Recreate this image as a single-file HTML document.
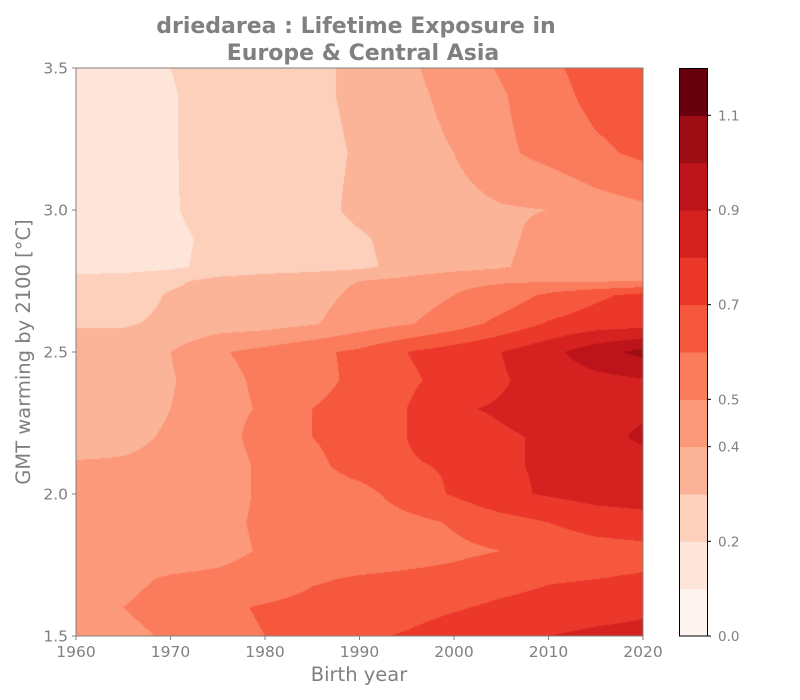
<!DOCTYPE html>
<html><head><meta charset="utf-8"><style>
body{margin:0;background:#fff;width:800px;height:700px;overflow:hidden;font-family:"Liberation Sans","DejaVu Sans",sans-serif}
svg text{font-family:"DejaVu Sans","Liberation Sans",sans-serif}
</style></head><body>
<div style="position:relative;width:800px;height:700px">
<canvas id="cv" width="567" height="568" style="position:absolute;left:76px;top:68px"></canvas>
<svg id="sv" width="800" height="700" style="position:absolute;left:0;top:0"></svg>
</div>
<script>
const years=[1960,1965,1970,1975,1980,1985,1990,1995,2000,2005,2010,2015,2020];
const gmt=[1.5,1.6,1.7,1.8,1.9,2.0,2.1,2.2,2.3,2.4,2.5,2.6,2.7,2.75,2.8,2.9,3.0,3.2,3.4,3.5];
// exposure values (x0.1) per GMT row, across birth years
const exposure=[
[4.6,4.8,5.1,5.7,6.0,6.5,6.8,7.1,7.5,7.7,8.0,8.2,8.3],
[4.9,5.0,5.3,5.8,6.1,6.3,6.4,6.6,6.9,7.2,7.4,7.6,7.8],
[4.5,4.8,5.1,5.2,5.4,5.9,6.1,6.2,6.3,6.6,6.9,7.0,7.1],
[4.5,4.5,4.5,4.7,5.1,5.3,5.4,5.6,5.8,6.0,6.4,6.6,6.7],
[4.4,4.4,4.5,4.7,5.2,5.3,5.4,5.7,6.1,6.6,7.0,7.4,7.6],
[4.3,4.3,4.3,4.5,5.2,5.4,5.6,6.5,7.1,7.8,8.1,8.4,8.5],
[4.1,4.1,4.2,4.5,5.2,5.7,6.5,6.9,7.1,7.9,8.1,8.4,8.5],
[3.6,3.8,4.1,4.6,5.4,6.0,6.5,7.0,7.6,7.9,8.1,8.6,9.2],
[3.5,3.6,4.0,4.7,5.1,6.0,6.5,7.0,7.9,8.1,8.3,8.6,8.8],
[3.5,3.6,3.9,4.7,5.2,5.6,6.3,6.8,7.4,7.9,8.4,8.7,8.9],
[3.5,3.5,4.0,4.9,5.3,5.8,6.2,7.0,7.5,8.0,8.7,9.6,10.3],
[2.9,2.9,3.2,3.5,3.6,3.9,4.5,4.9,5.5,6.3,7.1,7.5,7.6],
[2.4,2.5,3.1,3.4,3.5,3.7,4.2,4.5,5.0,5.4,6.2,6.8,7.3],
[2.5,2.5,2.8,3.3,3.5,3.7,4.0,4.3,4.8,4.9,4.9,4.9,5.0],
[1.5,1.6,1.8,2.3,2.5,2.6,2.8,3.3,3.6,3.9,4.4,4.7,4.9],
[1.5,1.6,1.8,2.2,2.5,2.6,2.9,3.3,3.5,3.8,4.3,4.6,4.8],
[1.5,1.6,1.9,2.4,2.5,2.7,3.2,3.5,3.6,3.9,4.0,4.5,4.8],
[1.5,1.5,1.9,2.5,2.5,2.7,3.1,3.6,4.0,4.8,5.3,5.8,6.2],
[1.5,1.5,1.9,2.5,2.5,2.8,3.2,3.7,4.3,4.9,5.6,6.3,6.6],
[1.5,1.5,2.0,2.5,2.5,2.8,3.2,3.8,4.5,5.1,5.8,6.4,6.9]];
const levels=[0,0.1,0.2,0.3,0.4,0.5,0.6,0.7,0.8,0.9,1.0,1.1,1.2];
const cbTicks=[0.0,0.2,0.4,0.5,0.7,0.9,1.1];
const xTicks=[1960,1970,1980,1990,2000,2010,2020];
const yTicks=[1.5,2.0,2.5,3.0,3.5];
const colors=['#fff5f0','#fee5d9','#fdd0bc','#fcb499','#fc997a','#fb7c5c','#f6583e','#ec382b','#d52221','#bc141a','#9d0d14','#67000d'];

const PL=76,PR=643,PT=68,PB=636;
const xS=v=>PL+(v-1960)/(2020-1960)*(PR-PL);
const yS=v=>PB-(v-1.5)/(3.5-1.5)*(PB-PT);
const cbS=v=>636-(v-0)/(1.2)*(636-68);

function seg(arr,v){let i=0;while(i<arr.length-2&&v>arr[i+1])i++;return i;}
function val(yr,g){
  const i=seg(years,yr),j=seg(gmt,g);
  const tx=Math.min(1,Math.max(0,(yr-years[i])/(years[i+1]-years[i])));
  const ty=Math.min(1,Math.max(0,(g-gmt[j])/(gmt[j+1]-gmt[j])));
  const a=exposure[j][i],b=exposure[j][i+1],c=exposure[j+1][i],d=exposure[j+1][i+1];
  return ((a*(1-tx)+b*tx)*(1-ty)+(c*(1-tx)+d*tx)*ty)/10;
}
function hex(h){return [parseInt(h.slice(1,3),16),parseInt(h.slice(3,5),16),parseInt(h.slice(5,7),16)];}
const rgb=colors.map(hex);
const cv=document.getElementById('cv'),ctx=cv.getContext('2d');
const W=cv.width,H=cv.height,img=ctx.createImageData(W,H);
for(let py=0;py<H;py++){
  const g=3.5-(py+0.5)/H*2;
  for(let px=0;px<W;px++){
    const yr=1960+(px+0.5)/W*60;
    const v=val(yr,g);
    let k=0;while(k<levels.length-2&&v>=levels[k+1])k++;
    const c=rgb[k],o=(py*W+px)*4;
    img.data[o]=c[0];img.data[o+1]=c[1];img.data[o+2]=c[2];img.data[o+3]=255;
  }
}
ctx.putImageData(img,0,0);

const sv=document.getElementById('sv'),NS='http://www.w3.org/2000/svg';
function mk(t,a,txt){const e=document.createElementNS(NS,t);for(const k in a)e.setAttribute(k,a[k]);if(txt!==undefined)e.textContent=txt;sv.appendChild(e);return e;}
let e;
e=mk('rect',{x:PL,y:PT,width:PR-PL,height:PB-PT,fill:'none',stroke:'#808080','stroke-width':1});


xTicks.forEach(t=>{
  e=mk('line',{x1:xS(t),x2:xS(t),y1:PB,y2:PB+4,stroke:'#808080'});
  
  
  e=mk('text',{x:xS(t),y:PB+21,'text-anchor':'middle','font-size':15.5,fill:'#808080'},String(t));
  
  
});
yTicks.forEach(t=>{
  e=mk('line',{x1:PL-4,x2:PL,y1:yS(t),y2:yS(t),stroke:'#808080'});
  
  
  e=mk('text',{x:PL-8,y:yS(t)+5.5,'text-anchor':'end','font-size':15.5,fill:'#808080'},t.toFixed(1));
  
  
});
e=mk('text',{x:359,y:681,'text-anchor':'middle','font-size':19.5,fill:'#808080'},'Birth year');


e=mk('text',{x:30,y:352,'text-anchor':'middle','font-size':19.5,fill:'#808080',transform:'rotate(-90 30 352)'},'GMT warming by 2100 [°C]');


e=mk('text',{x:356,y:33,'text-anchor':'middle','font-size':22,'font-weight':'bold',fill:'#808080'},'driedarea : Lifetime Exposure in');


e=mk('text',{x:363,y:60,'text-anchor':'middle','font-size':22,'font-weight':'bold',fill:'#808080'},'Europe & Central Asia');


for(let k=0;k<colors.length;k++){
  e=mk('rect',{x:680,y:cbS(levels[k+1]),width:27,height:cbS(levels[k])-cbS(levels[k+1])+0.5,fill:colors[k]});
  
  
}
e=mk('rect',{x:679.5,y:68.5,width:28,height:567.5,fill:'none',stroke:'#000','stroke-width':1});


cbTicks.forEach(t=>{
  e=mk('line',{x1:707,x2:711,y1:cbS(t),y2:cbS(t),stroke:'#000'});
  
  
  e=mk('text',{x:718,y:cbS(t)+5,'font-size':13.5,fill:'#808080'},t.toFixed(1));
  
  
});
</script>
</body></html>
